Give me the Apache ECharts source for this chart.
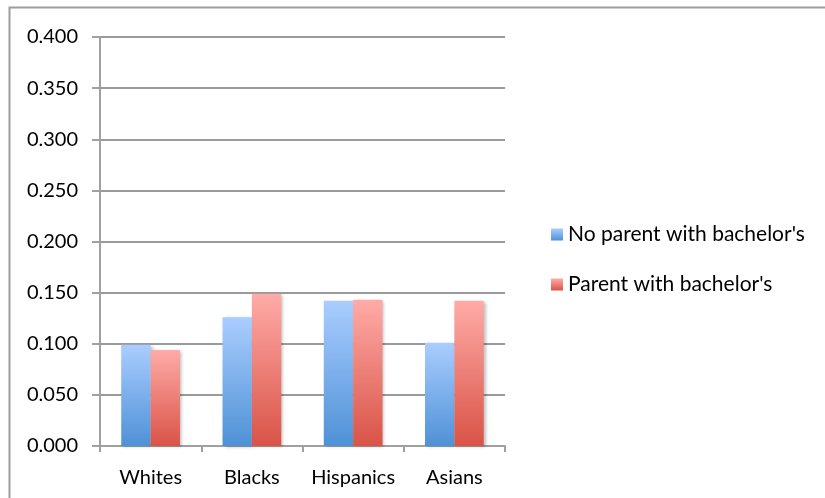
<!DOCTYPE html>
<html>
<head>
<meta charset="utf-8">
<script src="https://cdn.jsdelivr.net/npm/echarts@6/dist/echarts.min.js"></script>
<style>
  html, body { margin: 0; padding: 0; background: #fff; }
  #chart { width: 825px; height: 498px; }
</style>
</head>
<body>
<div id="chart"></div>
<script>
// Share of students by group, split by parental education
const categories = ['Whites', 'Blacks', 'Hispanics', 'Asians'];
const noParentBachelors = [0.099, 0.126, 0.142, 0.101];
const parentBachelors = [0.094, 0.149, 0.143, 0.142];
const seriesNames = ["No parent with bachelor's", "Parent with bachelor's"];

const FONT = 'Lato, "Open Sans", sans-serif';

function vGrad(top, bottom) {
  return new echarts.graphic.LinearGradient(0, 0, 0, 1, [
    { offset: 0, color: top },
    { offset: 1, color: bottom }
  ]);
}

const blueFill = vGrad('#aacdff', '#4e91d6');
const redFill = vGrad('#ffaba7', '#d95347');

const chart = echarts.init(document.getElementById('chart'), null, { renderer: 'canvas' });

const barShadow = {
  shadowBlur: 3,
  shadowOffsetX: 2,
  shadowOffsetY: 1,
  shadowColor: 'rgba(0,0,0,0.25)'
};

chart.setOption({
  animation: false,
  backgroundColor: '#ffffff',
  graphic: [{
    type: 'rect',
    silent: true,
    shape: { x: 9.5, y: 7.5, width: 840, height: 520 },
    style: { fill: 'none', stroke: '#9d9d9d', lineWidth: 2 }
  }],
  grid: { left: 100, right: 320, top: 37, bottom: 52, containLabel: false },
  legend: {
    orient: 'vertical',
    left: 546,
    top: 219,
    itemWidth: 12,
    itemHeight: 12,
    itemGap: 29,
    icon: 'rect',
    textStyle: { fontFamily: FONT, fontSize: 21, color: '#000' },
    data: seriesNames
  },
  xAxis: {
    type: 'category',
    data: categories,
    axisLine: { lineStyle: { color: '#a0a0a0', width: 2 } },
    axisTick: { show: true, alignWithLabel: false, interval: 0, length: 6, lineStyle: { color: '#a0a0a0', width: 2 } },
    axisLabel: { interval: 0, hideOverlap: false, fontFamily: FONT, fontSize: 20, color: '#000', margin: 22 },
    splitLine: { show: false }
  },
  yAxis: {
    type: 'value',
    min: 0,
    max: 0.4,
    interval: 0.05,
    axisLine: { show: true, lineStyle: { color: '#a0a0a0', width: 2 } },
    axisTick: { show: true, length: 8, lineStyle: { color: '#a0a0a0', width: 2 } },
    axisLabel: {
      fontFamily: FONT, fontSize: 20, color: '#000', margin: 22,
      formatter: v => v.toFixed(3)
    },
    splitLine: { show: true, lineStyle: { color: '#9a9a9a', width: 2 } }
  },
  series: [
    {
      name: seriesNames[0],
      type: 'bar',
      data: noParentBachelors,
      barGap: '0%',
      barCategoryGap: '42%',
      itemStyle: Object.assign({ color: blueFill }, barShadow)
    },
    {
      name: seriesNames[1],
      type: 'bar',
      data: parentBachelors,
      barGap: '0%',
      barCategoryGap: '42%',
      itemStyle: Object.assign({ color: redFill }, barShadow)
    }
  ]
});
</script>
</body>
</html>
